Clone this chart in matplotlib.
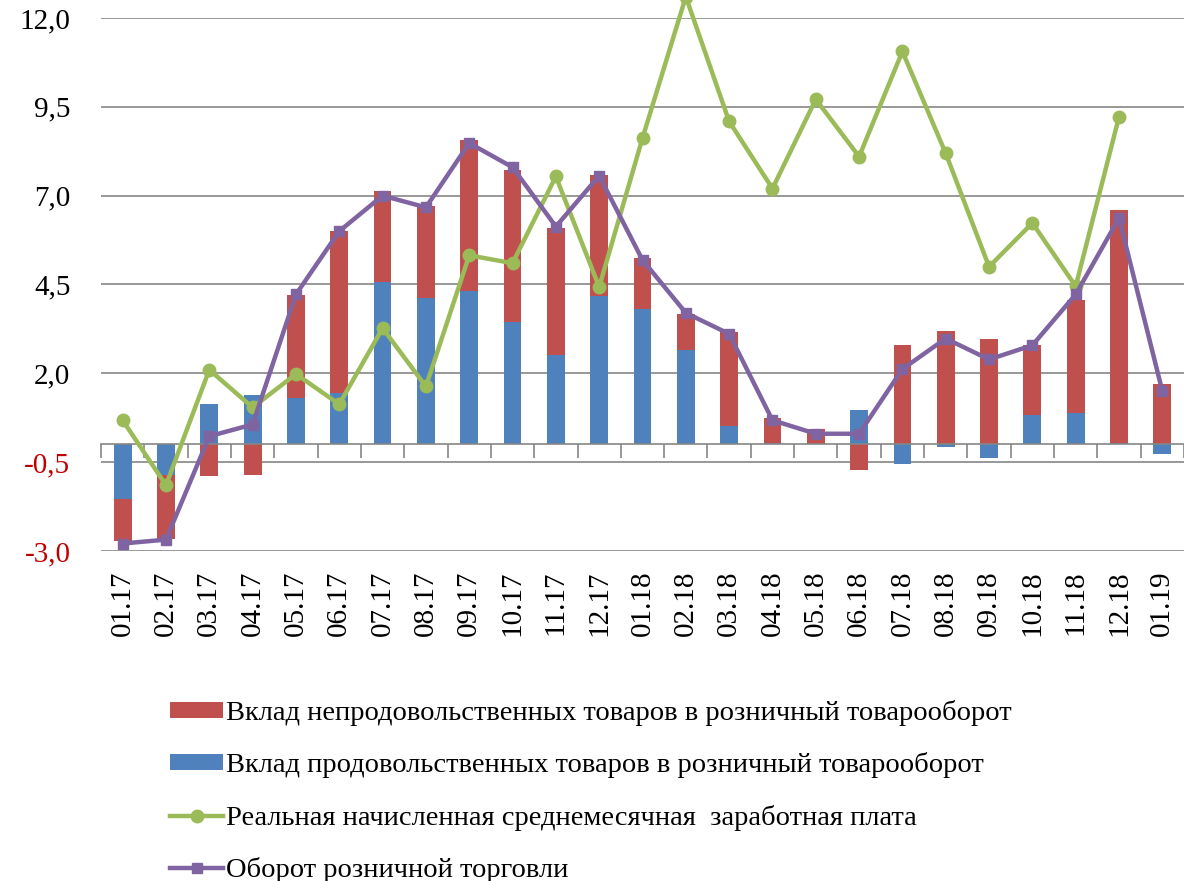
import numpy as np
import matplotlib
matplotlib.use('Agg')
import matplotlib.pyplot as plt

# months on the x axis
months = ['01.17', '02.17', '03.17', '04.17', '05.17', '06.17', '07.17', '08.17',
          '09.17', '10.17', '11.17', '12.17', '01.18', '02.18', '03.18', '04.18',
          '05.18', '06.18', '07.18', '08.18', '09.18', '10.18', '11.18', '12.18', '01.19']

# contribution of food goods (blue)
food = [-1.55, -0.85, 1.15, 1.40, 1.31, 1.44, 4.56, 4.13, 4.33, 3.44, 2.52, 4.17,
        3.81, 2.66, 0.53, 0.03, 0.00, 0.98, -0.56, -0.06, -0.39, 0.83, 0.87, 0.03, -0.28]

# contribution of non-food goods (red)
nonfood = [-1.16, -1.80, -0.90, -0.87, 2.89, 4.56, 2.57, 2.59, 4.25, 4.28, 3.58, 3.41,
           1.43, 1.02, 2.63, 0.71, 0.43, -0.73, 2.79, 3.19, 2.98, 1.96, 3.19, 6.58, 1.70]

# real wages (green)
wages = [0.68, -1.15, 2.10, 1.04, 1.98, 1.13, 3.27, 1.63, 5.32, 5.10, 7.54, 4.43,
         8.62, 12.60, 9.09, 7.20, 9.71, 8.10, 11.06, 8.19, 5.00, 6.23, 4.45, 9.22, np.nan]

# retail turnover (purple)
retail = [-2.79, -2.68, 0.23, 0.56, 4.22, 6.00, 7.00, 6.67, 8.48, 7.80, 6.13, 7.56,
          5.19, 3.70, 3.11, 0.68, 0.30, 0.30, 2.12, 2.98, 2.39, 2.79, 4.22, 6.37, 1.50]

yticks = [-3.0, -0.5, 2.0, 4.5, 7.0, 9.5, 12.0]

labels = ['Вклад непродовольственных товаров в розничный товарооборот',
          'Вклад продовольственных товаров в розничный товарооборот',
          'Реальная начисленная среднемесячная  заработная плата',
          'Оборот розничной торговли']

RED = '#C0504D'
BLUE = '#4F81BD'
GREEN = '#9BBB59'
PURPLE = '#8064A2'
GRID = '#868686'

plt.rcParams['font.family'] = ['Liberation Serif', 'DejaVu Serif']

x = np.arange(len(months))
food_a = np.array(food)
nonfood_a = np.array(nonfood)
# stack red on top of blue only when both have the same sign
red_bottom = np.where(np.sign(food_a) == np.sign(nonfood_a), food_a, 0.0)

fig = plt.figure(figsize=(11.84, 8.81), dpi=100)
ax = fig.add_axes([101/1184, 1 - 551/881, 1 - 101/1184, (551 - 18)/881])

blue_bars = ax.bar(x, food_a, width=0.41, color=BLUE, zorder=2)
red_bars = ax.bar(x, nonfood_a, width=0.41, bottom=red_bottom, color=RED, zorder=2)
green_line, = ax.plot(x, wages, color=GREEN, lw=3.2, marker='o', ms=9,
                      zorder=4, clip_on=False)
purple_line, = ax.plot(x, retail, color=PURPLE, lw=3.2, marker='s', ms=7,
                       zorder=5, clip_on=False)

ax.set_xlim(-0.5, len(months) - 0.5)
ax.set_ylim(-3, 12)
ax.set_yticks(yticks)
ax.set_yticklabels([f'{v:.1f}'.replace('.', ',') for v in yticks], fontsize=21)
for t, v in zip(ax.get_yticklabels(), yticks):
    if v < 0:
        t.set_color('#C00000')
ax.tick_params(axis='y', length=0, pad=22)
ax.yaxis.grid(True, color=GRID, lw=1.2, zorder=0)
ax.set_axisbelow(True)

# x axis line through zero with tick marks between months
for s in ['left', 'right', 'top']:
    ax.spines[s].set_visible(False)
ax.spines['bottom'].set_position(('data', 0))
ax.spines['bottom'].set_color(GRID)
ax.spines['bottom'].set_linewidth(1.2)
ax.set_xticks(np.arange(-0.5, len(months), 1.0))
ax.set_xticklabels([])
ax.tick_params(axis='x', direction='out', length=10, width=1.2, color=GRID)

# month labels at the bottom of the plot
sec = ax.secondary_xaxis('bottom')
sec.set_xticks(x)
sec.set_xticklabels(months, rotation=90, fontsize=21)
sec.tick_params(length=0, pad=14)
sec.spines['bottom'].set_visible(False)

fig.legend([red_bars, blue_bars, green_line, purple_line], labels,
           loc='upper left', bbox_to_anchor=(156/1184, 1 - 686/881),
           frameon=False, fontsize=20.5, handlelength=1.85, handleheight=0.48,
           handletextpad=0.1, labelspacing=0.92, borderpad=0, numpoints=1)

fig.savefig('out.png', dpi=100)
